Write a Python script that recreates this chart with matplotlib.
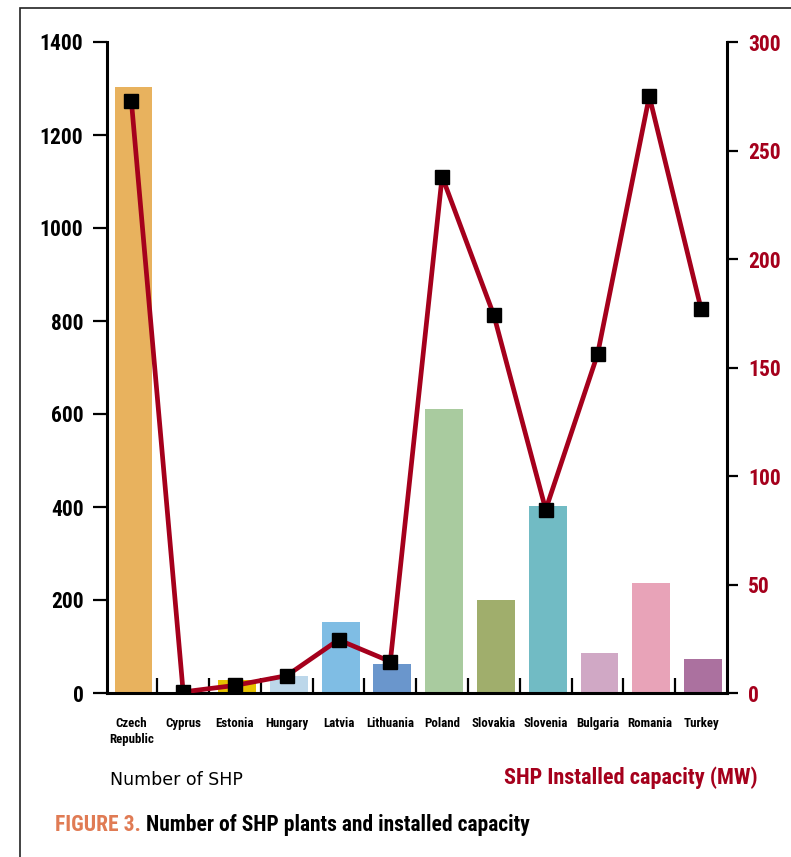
import matplotlib
matplotlib.use("Agg")
import matplotlib.pyplot as plt
from matplotlib.patches import Rectangle
import numpy as np

countries = ["Czech\nRepublic", "Cyprus", "Estonia", "Hungary", "Latvia", "Lithuania",
             "Poland", "Slovakia", "Slovenia", "Bulgaria", "Romania", "Turkey"]
num_shp = [1303, 0, 28, 37, 153, 62, 611, 199, 403, 86, 236, 73]
capacity_mw = [273, 0.5, 3.5, 8, 24.5, 14.5, 238, 174, 84.5, 156, 275, 177]
bar_colors = ["#e8b25e", "#e8b25e", "#e6c200", "#bcd7ea", "#7fbde4", "#6a96cc",
              "#a9cb9f", "#a0ae6c", "#71bbc4", "#d0a8c5", "#e8a3b8", "#ab719f"]
left_ticks = [0, 200, 400, 600, 800, 1000, 1200, 1400]
right_ticks = [0, 50, 100, 150, 200, 250, 300]

RED = "#a5001c"
NARROW = ["Liberation Sans Narrow", "DejaVu Sans Condensed", "Roboto Condensed",
          "Liberation Sans"]

W, H = 791, 857
fig = plt.figure(figsize=(W / 100, H / 100), dpi=100)

# outer frame (left and top edges visible)
fig.patches.append(Rectangle((20 / W, -0.05), 1.2, (857 - 8) / H + 0.05,
                             transform=fig.transFigure, fill=False,
                             edgecolor="#222222", linewidth=1.2))

ax = fig.add_axes([107 / W, (H - 693) / H, (727 - 107) / W, (693 - 42) / H])
ax2 = ax.twinx()

x = np.arange(len(countries))
ax.bar(x + 0.04, num_shp, width=0.73, color=bar_colors, zorder=2)
ax.set_xlim(-0.47, 11.5)
ax.set_ylim(0, 1400)
ax.set_yticks(left_ticks)
ax.set_yticklabels([str(t) for t in left_ticks], family=NARROW, fontweight="bold",
                   fontsize=15.5)
ax.tick_params(axis="y", direction="out", length=10, width=1.6, pad=7)

ax.set_xticks(x)
ax.set_xticklabels(countries, family=NARROW, fontweight="bold", fontsize=9.3,
                   linespacing=1.3, va="top")
ax.tick_params(axis="x", which="major", length=0, pad=17)
ax.set_xticks(x[:-1] + 0.5, minor=True)
ax.tick_params(axis="x", which="minor", direction="in", length=11, width=1.6)

for s in ["top", "right"]:
    ax.spines[s].set_visible(False)
for s in ["left", "bottom"]:
    ax.spines[s].set_linewidth(2.2)

ax2.plot(x, capacity_mw, color=RED, linewidth=3.4, marker="s", markersize=10,
         markerfacecolor="black", markeredgecolor="black", zorder=5)
ax2.set_ylim(0, 300)
ax2.set_yticks(right_ticks)
ax2.set_yticklabels([str(t) for t in right_ticks], family=NARROW, fontweight="bold",
                    fontsize=15.5, color=RED)
ax2.tick_params(axis="y", direction="out", length=8, width=1.6, pad=7)
for s in ["top", "left", "bottom"]:
    ax2.spines[s].set_visible(False)
ax2.spines["right"].set_linewidth(2.2)

fig.text(110 / W, 1 - 780 / H, "Number of SHP", fontsize=12.5, family="DejaVu Sans",
         va="center", ha="left")
fig.text(758 / W, 1 - 778 / H, "SHP Installed capacity (MW)", fontsize=16,
         family=NARROW, fontweight="bold", color=RED, va="center", ha="right")

t1 = fig.text(55 / W, 1 - 825 / H, "FIGURE 3.", fontsize=15.5, family=NARROW,
              fontweight="bold", color="#e07b54", va="center", ha="left")
fig.canvas.draw()
bb = t1.get_window_extent()
fig.text(bb.x1 / W + 5 / W, 1 - 825 / H, "Number of SHP plants and installed capacity",
         fontsize=15.5, family=NARROW, fontweight="bold", color="black",
         va="center", ha="left")

fig.savefig("out.png", dpi=100)
